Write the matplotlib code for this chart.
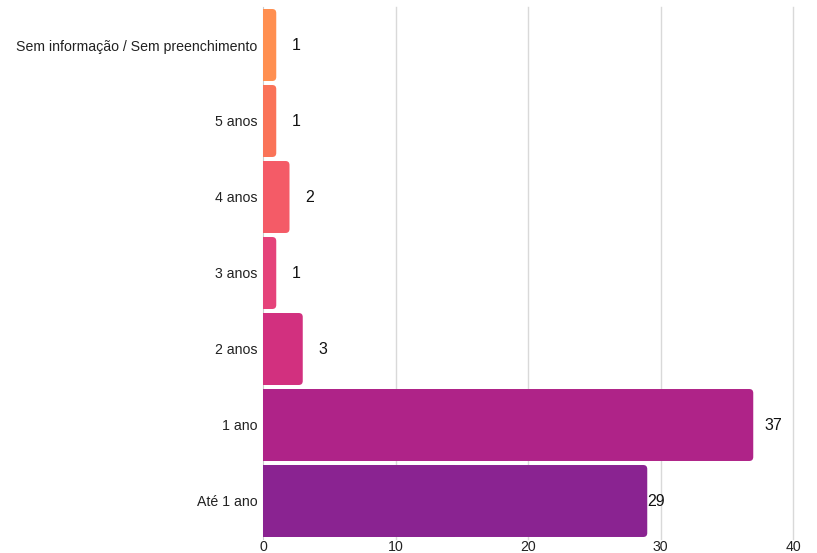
import matplotlib.pyplot as plt
from matplotlib.patches import FancyBboxPatch

plt.rcParams['font.family'] = ['Liberation Sans', 'DejaVu Sans']

categories = ["Sem informação / Sem preenchimento", "5 anos", "4 anos", "3 anos",
              "2 anos", "1 ano", "Até 1 ano"]
values = [1, 1, 2, 1, 3, 37, 29]
colors = ["#FF8F50", "#FA7358", "#F45B67", "#E5437A", "#D2307F", "#AF2388", "#8A2391"]
xticks = [0, 10, 20, 30, 40]

fig = plt.figure(figsize=(8.17, 5.53), dpi=100)
ax = fig.add_axes([263 / 817, 1 - 539 / 553, 530 / 817, 532 / 553])

n = len(categories)
ypos = list(range(n - 1, -1, -1))
h = 0.947
ax.set_xlim(0, 40)
ax.set_ylim(-0.5, n - 0.5)

# rounding: ~4 px on both axes
px_x = 40 / 530
px_y = 7 / 532
r = 4 * px_x
aspect = px_y / px_x

for y, v, c in zip(ypos, values, colors):
    ax.barh(y, v / 2, height=h, color=c, zorder=3)
    box = FancyBboxPatch((0, y - h / 2), v, h,
                         boxstyle=f"round,pad=0,rounding_size={r}",
                         mutation_aspect=aspect, facecolor=c, edgecolor='none', zorder=3)
    ax.add_patch(box)
    off = 9 if v == 29 else 20
    ax.text(v + off * px_x, y, str(v), va='center', ha='center', fontsize=11.5,
            color='#111111', zorder=4)

ax.set_yticks(ypos)
ax.set_yticklabels(categories, fontsize=10.2, color='#222222')
ax.set_xticks(xticks)
ax.set_xticklabels([str(t) for t in xticks], fontsize=10.2, color='#222222')
ax.tick_params(length=0)
ax.tick_params(axis='y', pad=4)
ax.tick_params(axis='x', pad=1)

for s in ['top', 'right', 'bottom']:
    ax.spines[s].set_visible(False)
ax.spines['left'].set_color('#cccccc')
for t in xticks[1:]:
    ax.axvline(t, color='#d9d9d9', linewidth=1, zorder=0, clip_on=False)

fig.savefig("out.png", dpi=100)
